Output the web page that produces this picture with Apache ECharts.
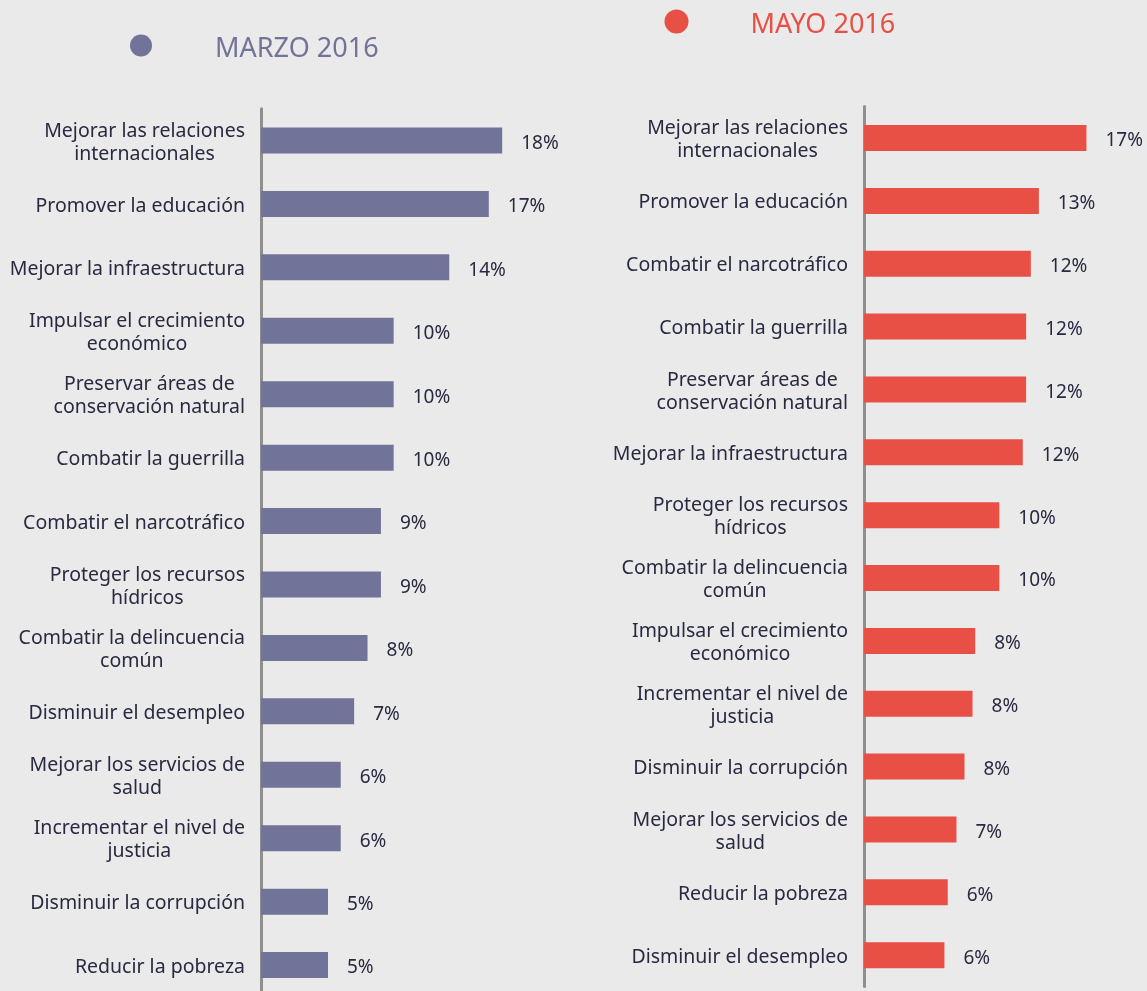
<!DOCTYPE html>
<html>
<head>
<meta charset="utf-8">
<script src="https://cdn.jsdelivr.net/npm/echarts@6/dist/echarts.min.js"></script>
<style>
    html, body {margin: 0; padding: 0; background: #eaeaea;}
    #chart {width: 1147px; height: 991px;}
</style>
</head>
<body>
<div id="chart"></div>
<script>
var catsMarzo = ['Mejorar las relaciones\ninternacionales', 'Promover la educación', 'Mejorar la infraestructura',
    'Impulsar el crecimiento\neconómico', 'Preservar áreas de\nconservación natural', 'Combatir la guerrilla',
    'Combatir el narcotráfico', 'Proteger los recursos\nhídricos', 'Combatir la delincuencia\ncomún',
    'Disminuir el desempleo', 'Mejorar los servicios de\nsalud', 'Incrementar el nivel de\njusticia',
    'Disminuir la corrupción', 'Reducir la pobreza'];
var valsMarzo = [18, 17, 14.05, 9.9, 9.9, 9.9, 8.95, 8.95, 7.95, 6.95, 5.95, 5.95, 5, 5];

var catsMayo = ['Mejorar las relaciones\ninternacionales', 'Promover la educación', 'Combatir el narcotráfico',
    'Combatir la guerrilla', 'Preservar áreas de\nconservación natural', 'Mejorar la infraestructura',
    'Proteger los recursos\nhídricos', 'Combatir la delincuencia\ncomún', 'Impulsar el crecimiento\neconómico',
    'Incrementar el nivel de\njusticia', 'Disminuir la corrupción', 'Mejorar los servicios de\nsalud',
    'Reducir la pobreza', 'Disminuir el desempleo'];
var valsMayo = [16.6, 13.05, 12.45, 12.1, 12.1, 11.85, 10.1, 10.1, 8.3, 8.1, 7.5, 6.9, 6.25, 6.0];

var FONT = 'Noto Sans';
var TEXT = '#272a40';
var PURPLE = '#727399';
var RED = '#e84f45';

function catLabel(v) {
    return v.split('\n').map(function (s) { return '{a|' + s + '}'; }).join('\n');
}

function yAxisFor(grid, cats) {
    return {
        type: 'category', gridIndex: grid, inverse: true, data: cats,
        axisTick: {show: false},
        axisLine: {show: true, lineStyle: {color: '#8f8f8f', width: 3}},
        axisLabel: {
            margin: 16, align: 'right', formatter: catLabel,
            rich: {a: {fontFamily: FONT, fontSize: 19.5, lineHeight: 23, color: TEXT, align: 'center', padding: [4, 0, 0, 0]}}
        }
    };
}

function barSeries(name, idx, vals, color) {
    return {
        name: name, type: 'bar', xAxisIndex: idx, yAxisIndex: idx, data: vals,
        barWidth: 26,
        itemStyle: {color: color},
        label: {
            show: true, position: 'right', distance: 19, offset: [0, 3],
            fontFamily: FONT, fontSize: 19, color: TEXT,
            formatter: function (p) { return Math.round(p.value) + '%'; }
        }
    };
}

function legendFor(name, left, top, size, color) {
    return {
        data: [name], left: left, top: top, padding: 0,
        icon: 'circle', itemWidth: 138, itemHeight: size,
        formatter: '{t|{name}}',
        textStyle: {
            rich: {t: {color: color, fontFamily: FONT, fontSize: 27, lineHeight: 30, padding: [8, 0, 0, 0]}}
        }
    };
}

var myChart = echarts.init(document.getElementById('chart'));
var option = {
    backgroundColor: '#eaeaea',
    animation: false,
    legend: [
        legendFor('MARZO 2016', 130, 28, 22, PURPLE),
        legendFor('MAYO 2016', 664.5, 4, 24, RED)
    ],
    grid: [
        {left: 261, top: 108.8, width: 268, height: 888, outerBoundsMode: 'none'},
        {left: 864, top: 106.6, width: 268, height: 880, outerBoundsMode: 'none'}
    ],
    xAxis: [
        {type: 'value', gridIndex: 0, min: 0, max: 20, show: false},
        {type: 'value', gridIndex: 1, min: 0, max: 20, show: false}
    ],
    yAxis: [yAxisFor(0, catsMarzo), yAxisFor(1, catsMayo)],
    series: [
        barSeries('MARZO 2016', 0, valsMarzo, PURPLE),
        barSeries('MAYO 2016', 1, valsMayo, RED)
    ]
};
myChart.setOption(option);
</script>
</body>
</html>
